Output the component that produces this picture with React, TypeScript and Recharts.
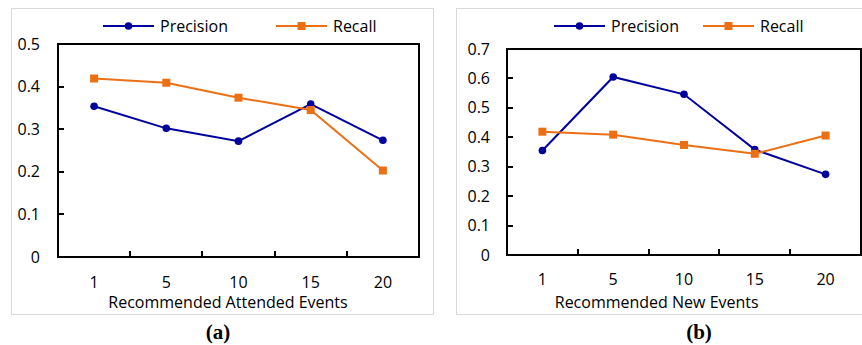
import React from 'react';
import { LineChart, Line, XAxis, YAxis } from 'recharts';

const categories = ['1', '5', '10', '15', '20'];
const precisionA = [0.354, 0.302, 0.272, 0.359, 0.274];
const recallA = [0.419, 0.409, 0.374, 0.345, 0.203];
const precisionB = [0.355, 0.605, 0.546, 0.358, 0.274];
const recallB = [0.419, 0.409, 0.374, 0.344, 0.406];
const yTicksA = [0, 0.1, 0.2, 0.3, 0.4, 0.5];
const yTicksB = [0, 0.1, 0.2, 0.3, 0.4, 0.5, 0.6, 0.7];
const seriesNames = ['Precision', 'Recall'];
const xTitleA = 'Recommended Attended Events';
const xTitleB = 'Recommended New Events';

const BLUE = '#00009C';
const ORANGE = '#EB7015';
const FONT = '"Open Sans", sans-serif';
const FS = 16;
const BASE = 5.6;

const build = (p: number[], r: number[]) =>
  categories.map((c, i) => ({ cat: c, Precision: p[i], Recall: r[i] }));

const fmt = (v: number) => String(Math.round(v * 10) / 10);

type PanelProps = {
  left: number;
  width: number;
  plotLeft: number;
  plotTop: number;
  plotRight: number;
  plotBottom: number;
  labelRight: number;
  xLabelY: number;
  titleX: number;
  titleY: number;
  title: string;
  data: any[];
  yTicks: number[];
  legend: { pLine: number; rLine: number };
  border: { l: number; r: number; t: number; b: number; openRight: boolean };
  caption: string;
  captionX: number;
};

const renderSquare = (props: any) => {
  const { cx, cy, index } = props;
  if (cx == null || cy == null) return <g key={`sq-${index}`} />;
  return <rect key={`sq-${index}`} x={cx - 4} y={cy - 4} width={8} height={8} fill={ORANGE} />;
};

const Panel = (pp: PanelProps) => {
  const band = (pp.plotRight - pp.plotLeft) / categories.length;
  const ymax = pp.yTicks[pp.yTicks.length - 1];
  const plotH = pp.plotBottom - pp.plotTop;
  const renderYTick = (props: any) => {
    const { y, payload } = props;
    return (
      <text x={pp.labelRight} y={y + BASE} textAnchor="end" fontFamily={FONT} fontSize={FS} fill="#000">
        {fmt(payload.value)}
      </text>
    );
  };
  const renderXTick = (props: any) => {
    const { x, payload } = props;
    return (
      <text x={x} y={pp.xLabelY + BASE} textAnchor="middle" fontFamily={FONT} fontSize={FS} fill="#000">
        {payload.value}
      </text>
    );
  };
  return (
    <div style={{ position: 'absolute', left: pp.left, top: 0, width: pp.width, height: 345 }}>
      <div
        style={{
          position: 'absolute',
          left: pp.border.l,
          top: pp.border.t,
          width: pp.border.r - pp.border.l,
          height: pp.border.b - pp.border.t,
          border: '1.5px solid #d9d9d9',
          borderRight: pp.border.openRight ? 'none' : '1.5px solid #d9d9d9',
          boxSizing: 'border-box',
        }}
      />
      <div style={{ position: 'absolute', left: 0, top: 0 }}>
        <LineChart
          width={pp.width}
          height={345}
          data={pp.data}
          margin={{ top: pp.plotTop, right: pp.width - pp.plotRight, bottom: 0, left: 0 }}
        >
          <XAxis
            dataKey="cat"
            scale="point"
            padding={{ left: band / 2, right: band / 2 }}
            height={345 - pp.plotBottom}
            axisLine={false}
            tickLine={false}
            tick={renderXTick}
            interval={0}
          />
          <YAxis
            domain={[0, ymax]}
            ticks={pp.yTicks}
            width={pp.plotLeft}
            axisLine={false}
            tickLine={false}
            tick={renderYTick}
            interval={0}
          />
          <Line
            dataKey="Precision"
            stroke={BLUE}
            strokeWidth={2}
            dot={{ r: 3.8, fill: BLUE, stroke: BLUE, strokeWidth: 0 }}
            isAnimationActive={false}
          />
          <Line dataKey="Recall" stroke={ORANGE} strokeWidth={2} dot={renderSquare} isAnimationActive={false} />
        </LineChart>
      </div>
      <svg style={{ position: 'absolute', left: 0, top: 0 }} width={pp.width} height={345}>
        <line x1={pp.legend.pLine} x2={pp.legend.pLine + 51} y1={26} y2={26} stroke={BLUE} strokeWidth={2} />
        <circle cx={pp.legend.pLine + 25.5} cy={26} r={3.8} fill={BLUE} />
        <text x={pp.legend.pLine + 57} y={26 + BASE} fontFamily={FONT} fontSize={FS} fill="#000">
          {seriesNames[0]}
        </text>
        <line x1={pp.legend.rLine} x2={pp.legend.rLine + 51} y1={26} y2={26} stroke={ORANGE} strokeWidth={2} />
        <rect x={pp.legend.rLine + 21.5} y={22} width={8} height={8} fill={ORANGE} />
        <text x={pp.legend.rLine + 57} y={26 + BASE} fontFamily={FONT} fontSize={FS} fill="#000">
          {seriesNames[1]}
        </text>
        <text x={pp.titleX} y={pp.titleY + BASE} textAnchor="middle" fontFamily={FONT} fontSize={FS} fill="#000">
          {pp.title}
        </text>
        <text x={pp.captionX} y={339} textAnchor="middle" fontFamily='"Liberation Serif", serif' fontWeight="bold" fontSize={21} fill="#000">
          {pp.caption}
        </text>
      </svg>
      <div
        style={{
          position: 'absolute',
          zIndex: 5,
          left: pp.plotLeft - 1,
          top: pp.plotTop - 1,
          width: pp.plotRight - pp.plotLeft + 2,
          height: plotH + 2,
          border: '2px solid #000',
          boxSizing: 'border-box',
        }}
      />
      {pp.yTicks.map((v) => (
        <div
          key={`yt-${v}`}
          style={{
            position: 'absolute',
            zIndex: 5,
            left: pp.plotLeft,
            top: pp.plotBottom - (v / ymax) * plotH - 1,
            width: 6,
            height: 2,
            background: '#000',
          }}
        />
      ))}
      {categories.slice(1).map((c, i) => (
        <div
          key={`xt-${c}`}
          style={{
            position: 'absolute',
            zIndex: 5,
            left: pp.plotLeft + band * (i + 1) - 1,
            top: pp.plotBottom - 6,
            width: 2,
            height: 6,
            background: '#000',
          }}
        />
      ))}
    </div>
  );
};

export default function App() {
  return (
    <div style={{ position: 'absolute', left: 0, top: 0, width: 862, height: 345, background: '#fff' }}>
      <Panel
        left={0}
        width={430}
        plotLeft={58}
        plotTop={44}
        plotRight={419}
        plotBottom={257}
        labelRight={40}
        xLabelY={282}
        titleX={228}
        titleY={302}
        title={xTitleA}
        data={build(precisionA, recallA)}
        yTicks={yTicksA}
        legend={{ pLine: 103, rLine: 276 }}
        border={{ l: 11, r: 434, t: 8, b: 315, openRight: false }}
        caption="(a)"
        captionX={218}
      />
      <Panel
        left={430}
        width={432}
        plotLeft={77}
        plotTop={49}
        plotRight={431}
        plotBottom={255}
        labelRight={60}
        xLabelY={279}
        titleX={226.7}
        titleY={302}
        title={xTitleB}
        data={build(precisionB, recallB)}
        yTicks={yTicksB}
        legend={{ pLine: 124, rLine: 273 }}
        border={{ l: 26, r: 432, t: 8, b: 315, openRight: true }}
        caption="(b)"
        captionX={269}
      />
    </div>
  );
}
